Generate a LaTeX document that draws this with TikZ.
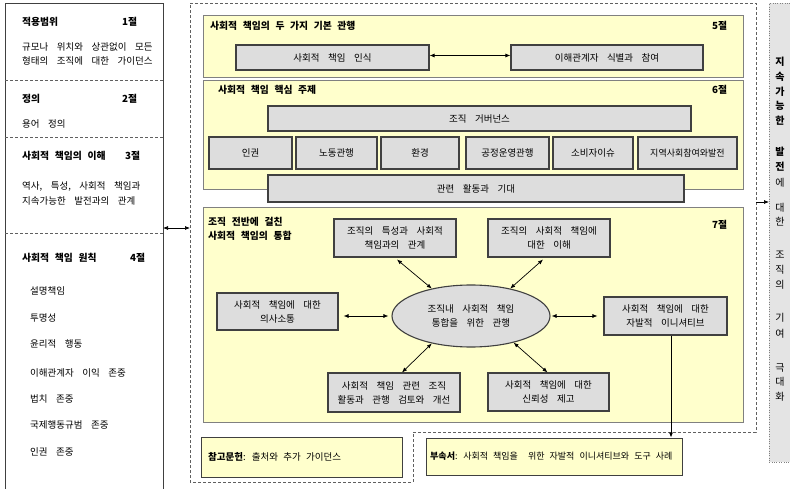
\documentclass[tikz,border=0pt]{standalone}
\usepackage{fontspec}
\setmainfont[WordSpace=4]{Noto Sans CJK KR}
\newfontfamily\tightsp[WordSpace=2.5]{Noto Sans CJK KR}
\usetikzlibrary{shapes.geometric,arrows.meta}
\definecolor{ylw}{HTML}{FFFFCC}
\definecolor{yedge}{HTML}{808080}
\definecolor{gfill}{HTML}{DDDDDD}
\definecolor{gedge}{HTML}{404040}
\definecolor{colfill}{HTML}{E4E4E4}
\definecolor{dash}{HTML}{606060}
\begin{document}
\begin{tikzpicture}[x=1pt,y=-1pt,
  font=\fontsize{9.5}{14}\selectfont,
  ybox/.style={draw=yedge, fill=ylw, line width=0.9pt},
  gbox/.style={draw=gedge, fill=gfill, line width=1.1pt, inner sep=0pt, align=center},
  hdr/.style={font=\fontsize{9.8}{14}\tightsp\bfseries, anchor=west, inner sep=0pt},
  txt/.style={anchor=west, inner sep=0pt},
  dsh/.style={draw=dash, dashed, dash pattern=on 3pt off 2pt, line width=0.7pt},
  dbl/.style={{Latex[length=5pt,width=4pt]}-{Latex[length=5pt,width=4pt]}, line width=0.7pt},
]
\useasboundingbox (0,0) rectangle (790,489);

% ---------- left panel: clauses 1-4 ----------
\draw[draw=gedge, line width=0.9pt] (5,3) rectangle (163,495);
\foreach \yy in {80,137,233} \draw[dsh] (5,\yy) -- (163,\yy);

\node[hdr] (h1) at (22,22) {적용범위};
\node[hdr] (n1) at (122,22) {1절};
\node[txt] (l1a) at (22,47) {규모나 위치와 상관없이 모든};
\node[txt] (l1b) at (22,61) {형태의 조직에 대한 가이던스};

\node[hdr] (h2) at (22,99) {정의};
\node[hdr] (n2) at (122,99) {2절};
\node[txt] (l2a) at (22,124) {용어 정의};

\node[hdr] (h3) at (22,156) {사회적 책임의 이해};
\node[hdr] (n3) at (125,156) {3절};
\node[txt] (l3a) at (22,186) {역사, 특성, 사회적 책임과};
\node[txt] (l3b) at (22,201) {지속가능한 발전과의 관계};

\node[hdr] (h4) at (22,258) {사회적 책임 원칙};
\node[hdr] (n4) at (130,258) {4절};
\node[txt] (p1) at (30,291) {설명책임};
\node[txt] (p2) at (30,318) {투명성};
\node[txt] (p3) at (30,344) {윤리적 행동};
\node[txt] (p4) at (30,373) {이해관계자 이익 존중};
\node[txt] (p5) at (30,399) {법치 존중};
\node[txt] (p6) at (30,425) {국제행동규범 존중};
\node[txt] (p7) at (30,452) {인권 존중};

% ---------- dashed frame around clauses 5-7 ----------
\draw[dsh] (190,3) -- (756,3) -- (756,432) -- (413,432) -- (413,482) -- (190,482) -- cycle;
\coordinate (lpR) at (163,228);
\coordinate (frL) at (190,228);
\draw[dbl] (lpR) -- (frL);

% ---------- clause 5 ----------
\draw[ybox] (203,15) rectangle (743,77);
\node[hdr] (h5) at (210,26) {사회적 책임의 두 가지 기본 관행};
\node[hdr] (n5) at (712,26) {5절};
\node[gbox, minimum width=193pt, minimum height=25pt] (s5a) at (332.5,57.5) {사회적 책임 인식};
\node[gbox, minimum width=192pt, minimum height=25pt] (s5b) at (607,57.5) {이해관계자 식별과 참여};
\draw[dbl] ([yshift=2pt]s5a.east) -- ([yshift=2pt]s5b.west);

% ---------- clause 6 ----------
\draw[ybox] (203,80) rectangle (743,189);
\node[hdr] (h6) at (218,90) {사회적 책임 핵심 주제};
\node[hdr] (n6) at (712,90) {6절};
\node[gbox, minimum width=423pt, minimum height=25pt] (gov) at (479.5,118.5) {조직 거버넌스};
\node[gbox, minimum width=83pt, minimum height=32pt] (t1) at (250.5,153) {인권};
\node[gbox, minimum width=81pt, minimum height=32pt] (t2) at (336.5,153) {노동관행};
\node[gbox, minimum width=78pt, minimum height=32pt] (t3) at (420,153) {환경};
\node[gbox, minimum width=83pt, minimum height=32pt] (t4) at (507.5,153) {공정운영관행};
\node[gbox, minimum width=80pt, minimum height=32pt] (t5) at (593,153) {소비자이슈};
\node[gbox, minimum width=99pt, minimum height=32pt, font=\fontsize{9}{14}\selectfont] (t6) at (687.5,153) {지역사회참여와발전};
\node[gbox, minimum width=416pt, minimum height=27pt] (act) at (476,188.5) {관련 활동과 기대};

% ---------- clause 7 ----------
\draw[ybox] (203,207) rectangle (743,422);
\node[hdr, align=left] (h7) at (208,229) {조직 전반에 걸친\\사회적 책임의 통합};
\node[hdr] (n7) at (712,225) {7절};
\node[gbox, minimum width=122pt, minimum height=38pt] (b1) at (395,238) {조직의 특성과 사회적\\책임과의 관계};
\node[gbox, minimum width=122pt, minimum height=38pt] (b2) at (549,238) {조직의 사회적 책임에\\대한 이해};
\node[gbox, minimum width=121pt, minimum height=37pt] (b3) at (277.5,311.5) {사회적 책임에 대한\\의사소통};
\node[gbox, ellipse, minimum width=158pt, minimum height=62pt] (ell) at (471,316) {조직내 사회적 책임\\통합을 위한 관행};
\node[gbox, minimum width=123pt, minimum height=38pt] (b4) at (665.5,316) {사회적 책임에 대한\\자발적 이니셔티브};
\node[gbox, minimum width=132pt, minimum height=39pt] (b5) at (394,392.5) {사회적 책임 관련 조직\\활동과 관행 검토와 개선};
\node[gbox, minimum width=121pt, minimum height=38pt] (b6) at (548.5,392) {사회적 책임에 대한\\신뢰성 제고};

\draw[dbl] ([shift={(2pt,-2pt)}]b1.south) -- (ell.145);
\draw[dbl] ([shift={(-6pt,-2pt)}]b2.south) -- (ell.35);
\draw[dbl] ([xshift=5pt]b3.east |- ell.west) -- ([xshift=-3pt]ell.west);
\draw[dbl] ([xshift=1pt]ell.east) -- ([xshift=-6pt]b4.west);
\draw[dbl] (ell.215) -- ([xshift=8pt]b5.north);
\draw[dbl] (ell.328) -- ([xshift=-1pt]b6.north);

% ---------- bibliography and annex ----------
\node[draw=gedge, fill=ylw, line width=0.9pt, minimum width=201pt, minimum height=40pt, inner sep=0pt] (bib) at (301.5,457) {};
\node[txt, font=\fontsize{9.5}{14}\tightsp] (bibt) at (208,457) {\textbf{참고문헌}: 출처와 추가 가이던스};
\node[draw=gedge, fill=ylw, line width=0.9pt, minimum width=256pt, minimum height=37pt, inner sep=0pt] (annex) at (554,456.5) {};
\node[txt, font=\fontsize{9}{14}\tightsp] (annext) at (430,456.5) {\textbf{부속서}: 사회적 책임을~ 위한 자발적 이니셔티브와 도구 사례};
\coordinate (b4drop) at ([xshift=5.5pt]b4.south);
\draw[line width=0.8pt, -{Latex[length=5pt,width=4pt]}] (b4drop) -- (b4drop |- annex.north);

% ---------- right column: overall aim ----------
\node[draw=gray, dotted, fill=colfill, minimum width=28pt, minimum height=459pt, inner sep=0pt, anchor=north west] (aim) at (769,3) {};
\coordinate (frR) at (756,202);
\draw[line width=0.7pt, -{Latex[length=5pt,width=4pt]}] (frR) -- (frR -| aim.west);
\foreach \ch/\yy in {지/62,속/77,가/92,능/106,한/121,발/152,전/167}
  \node[font=\fontsize{10}{12}\selectfont\bfseries, inner sep=0pt] at (780,\yy) {\ch};
\foreach \ch/\yy in {에/183,대/208,한/222,조/255,직/270,의/285,기/318,여/334,극/368,대/382,화/397}
  \node[font=\fontsize{10}{12}\selectfont, inner sep=0pt] at (780,\yy) {\ch};
\end{tikzpicture}
\end{document}
